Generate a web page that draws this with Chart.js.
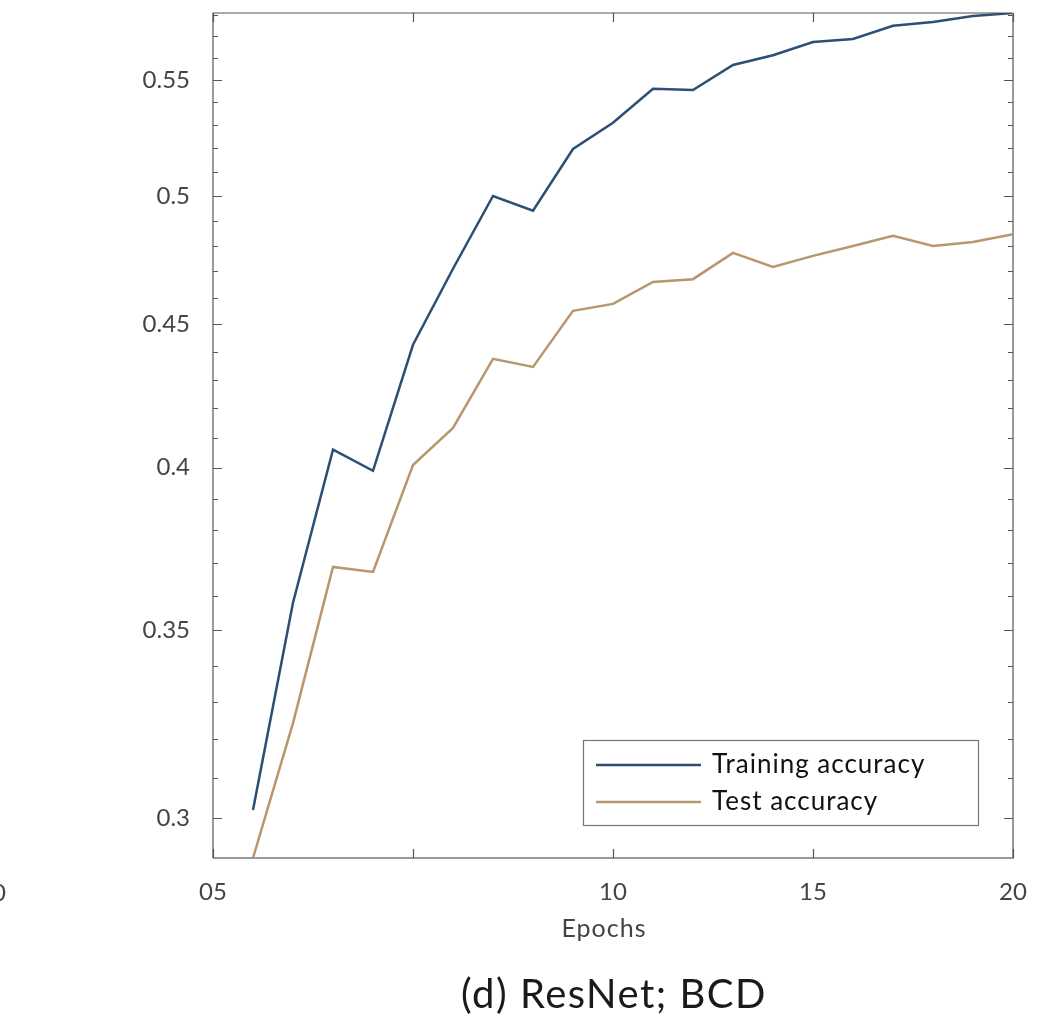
<!DOCTYPE html>
<html>
<head>
<meta charset="utf-8">
<script src="https://cdn.jsdelivr.net/npm/chart.js@4.4.1/dist/chart.umd.min.js"></script>
<style>
  html, body { margin: 0; padding: 0; background: #ffffff; }
  #wrap { width: 1063px; height: 1015px; position: relative; }
</style>
</head>
<body>
<div id="wrap"><canvas id="c"></canvas></div>
<script>
const epochs = [1, 2, 3, 4, 5, 6, 7, 8, 9, 10, 11, 12, 13, 14, 15, 16, 17, 18, 19, 20];
const trainingAccuracy = [0.302, 0.358, 0.406, 0.399, 0.4425, 0.471, 0.500, 0.494, 0.5197, 0.531,
                          0.546, 0.5455, 0.5568, 0.5613, 0.5674, 0.5688, 0.575, 0.5768, 0.5797, 0.5811];
const testAccuracy = [0.2903, 0.3243, 0.3687, 0.3672, 0.4009, 0.4133, 0.4374, 0.4345, 0.455, 0.4576,
                      0.4659, 0.467, 0.4772, 0.4717, 0.476, 0.4799, 0.4839, 0.4799, 0.4815, 0.4846];
const xTickValues = [0, 5, 10, 15, 20];
const xTickLabels = ["05", "", "10", "15", "20"];
const yTickValues = [0.3, 0.35, 0.4, 0.45, 0.5, 0.55];
const yTickLabels = ["0.3", "0.35", "0.4", "0.45", "0.5", "0.55"];
const yMinorTicks = [0.31, 0.32, 0.33, 0.34, 0.36, 0.37, 0.38, 0.39, 0.41, 0.42, 0.43, 0.44,
                     0.46, 0.47, 0.48, 0.49, 0.51, 0.52, 0.53, 0.54, 0.56, 0.57, 0.58];
const seriesNames = ["Training accuracy", "Test accuracy"];
const xAxisTitle = "Epochs";
const figureTitle = "(d) ResNet; BCD";
const strayLabel = "0";

const FONT = "Lato, 'Open Sans', sans-serif";

const overlay = {
  id: 'overlay',
  afterDraw(chart) {
    const ctx = chart.ctx;
    const a = chart.chartArea;
    const xs = chart.scales.x, ys = chart.scales.y;
    ctx.save();
    // frame
    ctx.lineWidth = 1.2;
    ctx.strokeStyle = '#555';
    ctx.beginPath();
    ctx.moveTo(a.left, a.bottom); ctx.lineTo(a.left, a.top); ctx.lineTo(a.right, a.top);
    ctx.stroke();
    ctx.lineWidth = 2;
    ctx.strokeStyle = '#999';
    ctx.beginPath();
    ctx.moveTo(a.right, a.top); ctx.lineTo(a.right, a.bottom); ctx.lineTo(a.left, a.bottom);
    ctx.stroke();
    // ticks
    ctx.strokeStyle = '#555';
    ctx.lineWidth = 1.2;
    ctx.beginPath();
    yTickValues.forEach(v => {
      const y = Math.round(ys.getPixelForValue(v)) + 0.5;
      ctx.moveTo(a.left, y); ctx.lineTo(a.left + 9, y);
      ctx.moveTo(a.right, y); ctx.lineTo(a.right - 9, y);
    });
    yMinorTicks.forEach(v => {
      const y = Math.round(ys.getPixelForValue(v)) + 0.5;
      ctx.moveTo(a.left, y); ctx.lineTo(a.left + 5, y);
      ctx.moveTo(a.right, y); ctx.lineTo(a.right - 5, y);
    });
    xTickValues.forEach(v => {
      const x = Math.round(xs.getPixelForValue(v)) + 0.5;
      ctx.moveTo(x, a.bottom); ctx.lineTo(x, a.bottom - 9);
      ctx.moveTo(x, a.top); ctx.lineTo(x, a.top + 9);
    });
    ctx.stroke();

    // legend
    const lx = 583, ly = 740, lw = 395, lh = 85;
    ctx.fillStyle = '#fff';
    ctx.fillRect(lx, ly, lw, lh);
    ctx.strokeStyle = '#777';
    ctx.lineWidth = 1.2;
    ctx.strokeRect(lx + 0.5, ly + 0.5, lw, lh);
    ctx.font = "26px " + FONT;
    ctx.letterSpacing = '1px';
    ctx.textBaseline = 'middle';
    ctx.textAlign = 'left';
    chart.data.datasets.forEach((ds, i) => {
      const y = ly + 25 + i * 37;
      ctx.strokeStyle = ds.borderColor;
      ctx.lineWidth = 2.5;
      ctx.beginPath();
      ctx.moveTo(596, y); ctx.lineTo(701, y);
      ctx.stroke();
      ctx.fillStyle = '#111';
      ctx.fillText(ds.label, 712, y);
    });

    // axis title and figure title
    ctx.fillStyle = '#444';
    ctx.textAlign = 'center';
    ctx.font = "25px " + FONT;
    ctx.letterSpacing = '1px';
    ctx.fillText(xAxisTitle, 604, 929);
    ctx.letterSpacing = '0px';
    ctx.font = "24px " + FONT;
    ctx.fillText(strayLabel, -1, 893);
    ctx.fillStyle = '#1a1a1a';
    ctx.font = "40px " + FONT;
    ctx.letterSpacing = '1.5px';
    ctx.fillText(figureTitle, 614, 995);
    ctx.restore();
  }
};

new Chart(document.getElementById('c'), {
  type: 'line',
  data: {
    datasets: [
      {
        label: seriesNames[0],
        data: epochs.map((e, i) => ({ x: e, y: trainingAccuracy[i] })),
        borderColor: '#2c4f73',
        borderWidth: 2.5,
        pointRadius: 0,
        tension: 0,
        fill: false
      },
      {
        label: seriesNames[1],
        data: epochs.map((e, i) => ({ x: e, y: testAccuracy[i] })),
        borderColor: '#b8966e',
        borderWidth: 2.5,
        pointRadius: 0,
        tension: 0,
        fill: false
      }
    ]
  },
  options: {
    responsive: true,
    maintainAspectRatio: false,
    animation: false,
    layout: { padding: { left: 0, right: 50, top: 13, bottom: 0 } },
    plugins: { legend: { display: false }, tooltip: { enabled: false }, title: { display: false } },
    scales: {
      x: {
        type: 'linear',
        min: 0,
        max: 20,
        grid: { display: false, drawTicks: false },
        border: { display: false },
        afterBuildTicks: s => { s.ticks = xTickValues.map(v => ({ value: v })); },
        afterFit: s => { s.height = 157; s.paddingLeft = 0; s.paddingRight = 0; },
        ticks: {
          autoSkip: false,
          maxRotation: 0,
          padding: 20,
          color: '#444',
          font: { family: FONT, size: 24 },
          callback: (v, i) => xTickLabels[i]
        }
      },
      y: {
        type: 'logarithmic',
        min: 0.2903,
        max: 0.5811,
        grid: { display: false, drawTicks: false },
        border: { display: false },
        afterBuildTicks: s => { s.ticks = yTickValues.map(v => ({ value: v })); },
        afterFit: s => { s.width = 213; s.paddingTop = 0; s.paddingBottom = 0; },
        ticks: {
          autoSkip: false,
          padding: 23,
          color: '#444',
          font: { family: FONT, size: 24 },
          callback: (v, i) => yTickLabels[i]
        }
      }
    }
  },
  plugins: [overlay]
});
</script>
</body>
</html>
